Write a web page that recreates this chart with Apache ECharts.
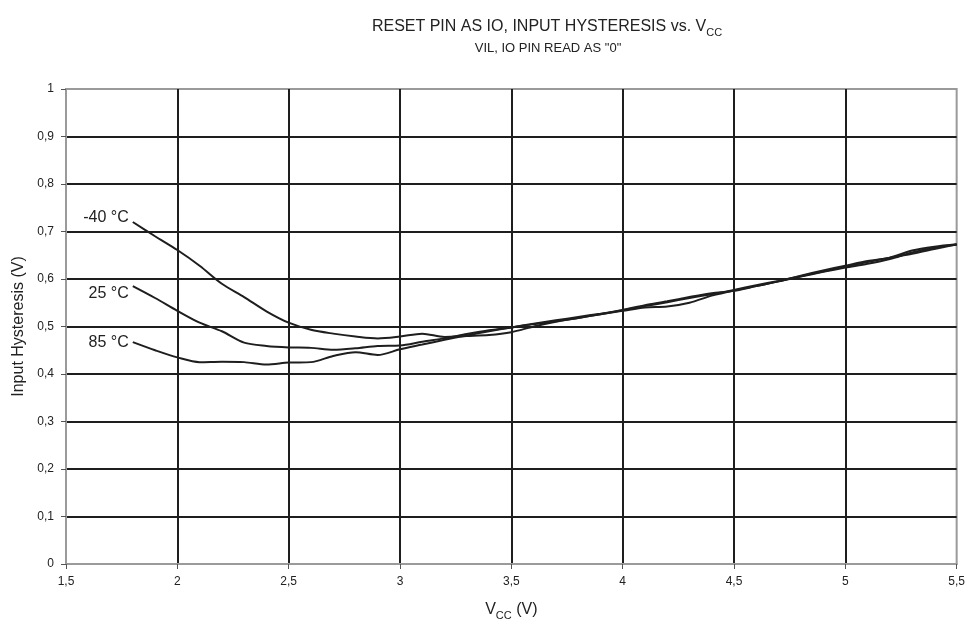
<!DOCTYPE html>
<html><head><meta charset="utf-8">
<script src="https://cdn.jsdelivr.net/npm/echarts@6/dist/echarts.min.js"></script>
<style>html,body{margin:0;padding:0;background:#fff}#c{width:968px;height:626px}</style>
</head><body><div id="c"></div>
<script>
const vcc = [1.8,1.9,2.0,2.1,2.2,2.3,2.4,2.5,2.6,2.7,2.8,2.9,3.0,3.1,3.2,3.3,3.4,3.5,3.6,3.7,3.8,3.9,4.0,4.1,4.2,4.3,4.4,4.5,4.6,4.7,4.8,4.9,5.0,5.1,5.2,5.3,5.4,5.5];
const hystM40 = [0.720,0.690,0.661,0.628,0.590,0.562,0.532,0.508,0.493,0.485,0.479,0.475,0.479,0.485,0.478,0.480,0.482,0.488,0.500,0.510,0.518,0.526,0.533,0.540,0.542,0.550,0.565,0.576,0.585,0.595,0.605,0.615,0.624,0.632,0.642,0.656,0.666,0.672];
const hyst25 = [0.585,0.560,0.533,0.508,0.490,0.466,0.459,0.456,0.455,0.451,0.454,0.459,0.460,0.468,0.475,0.484,0.492,0.498,0.505,0.511,0.518,0.526,0.534,0.543,0.551,0.560,0.568,0.577,0.587,0.596,0.606,0.616,0.626,0.636,0.645,0.653,0.663,0.673];
const hyst85 = [0.467,0.450,0.435,0.425,0.426,0.425,0.420,0.424,0.425,0.438,0.446,0.440,0.452,0.462,0.472,0.481,0.490,0.498,0.506,0.513,0.520,0.527,0.535,0.545,0.553,0.562,0.570,0.575,0.585,0.595,0.607,0.618,0.628,0.638,0.645,0.660,0.668,0.673];
const seriesNames = ['-40 °C','25 °C','85 °C'];
const labelOffsets = [[0,-4],[0,7],[0,0]];

const FONT = 'Liberation Sans, Arial, sans-serif';
function build(vals, idx){
  return vals.map((v,i)=>{
    if(i===0) return {value:[vcc[i],v], label:{show:true, position:'left', distance:4, offset:labelOffsets[idx], formatter:seriesNames[idx], fontSize:16, color:'#222', fontFamily:FONT}};
    return [vcc[i],v];
  });
}
const chart = echarts.init(document.getElementById('c'));
chart.setOption({
  animation:false,
  backgroundColor:'#fff',
  title:[{
    text:'{a|RESET PIN AS IO, INPUT HYSTERESIS vs. V}{s|CC}',
    left:542, top:10, textAlign:'center',
    textStyle:{fontWeight:'normal',rich:{a:{fontSize:16,fontFamily:FONT,color:'#222',fontWeight:'normal',lineHeight:20,verticalAlign:'bottom'},s:{fontSize:11,fontFamily:FONT,color:'#222',fontWeight:'normal',lineHeight:20,verticalAlign:'bottom',padding:[0,0,-3,0]}}}
  },{
    text:'VIL, IO PIN READ AS "0"',
    left:543, top:35, textAlign:'center',
    textStyle:{fontSize:13,fontFamily:FONT,color:'#222',fontWeight:'normal',lineHeight:16}
  }],
  grid:{left:66,right:10,top:89,bottom:57,show:true,borderColor:'#9a9a9a',borderWidth:2},
  xAxis:{
    type:'value', min:1.5, max:5.5, interval:0.5,
    name:'{a|V}{s|CC}{a| (V)}', nameLocation:'middle', nameGap:34,
    nameTextStyle:{rich:{a:{fontSize:16,fontFamily:FONT,color:'#222',lineHeight:20,verticalAlign:'bottom'},s:{fontSize:11,fontFamily:FONT,color:'#222',lineHeight:20,verticalAlign:'bottom',padding:[0,0,-3,0]}}},
    axisLine:{show:true,lineStyle:{color:'#9a9a9a',width:2}},
    axisTick:{show:true,length:5,lineStyle:{color:'#555',width:1}},
    axisLabel:{fontSize:12,fontFamily:FONT,color:'#222',margin:12,formatter:v=>String(+v.toFixed(1)).replace('.',',')},
    splitLine:{show:true,showMinLine:false,showMaxLine:false,lineStyle:{color:'#1e1e1e',width:2}}
  },
  yAxis:{
    type:'value', min:0, max:1, interval:0.1,
    name:'Input Hysteresis (V)', nameLocation:'middle', nameGap:36,
    nameTextStyle:{fontSize:16,fontFamily:FONT,color:'#222'},
    axisLine:{show:true,lineStyle:{color:'#9a9a9a',width:2}},
    axisTick:{show:true,length:5,lineStyle:{color:'#555',width:1}},
    axisLabel:{fontSize:12,fontFamily:FONT,color:'#222',margin:12,formatter:v=>String(+v.toFixed(1)).replace('.',',')},
    splitLine:{show:true,showMinLine:false,showMaxLine:false,lineStyle:{color:'#1e1e1e',width:2}}
  },
  series:[hystM40,hyst25,hyst85].map((d,i)=>({
    type:'line', name:seriesNames[i], data:build(d,i), smooth:0.3,
    symbol:'circle', symbolSize:0, showSymbol:true,
    lineStyle:{color:'#1e1e1e',width:2}, itemStyle:{color:'#1e1e1e'}
  }))
});
</script></body></html>
